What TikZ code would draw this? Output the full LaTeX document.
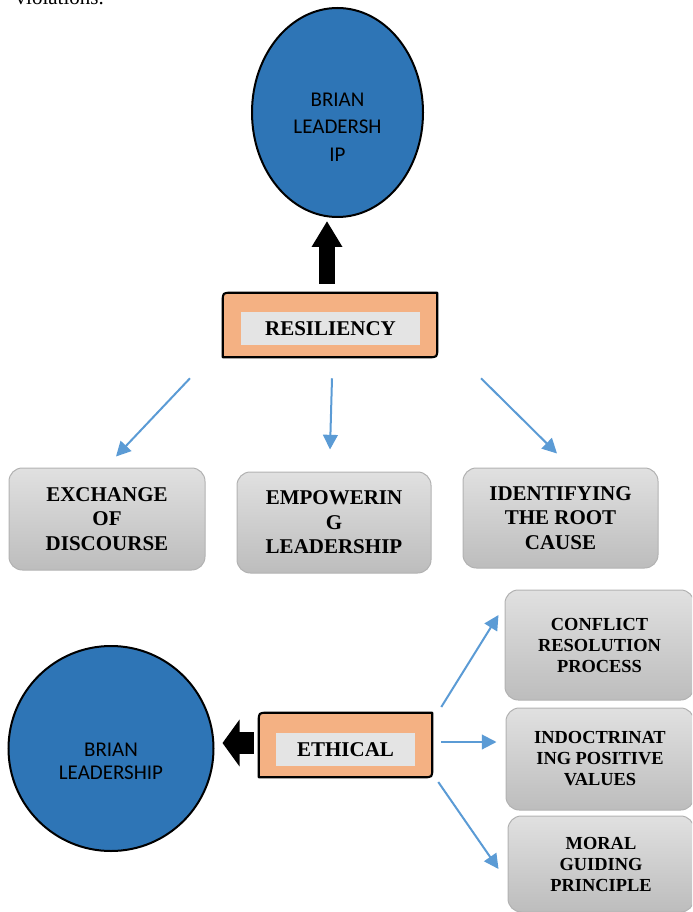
\documentclass[tikz,border=0pt]{standalone}
\usepackage{fontspec}
\setmainfont{Liberation Serif}
\newfontfamily\calibri{Carlito}
\usetikzlibrary{arrows.meta, shapes.geometric, calc}
\definecolor{mBlue}{HTML}{2E75B6}
\definecolor{mPeach}{HTML}{F4B183}
\definecolor{mArrow}{HTML}{5B9BD5}
\definecolor{mTab}{HTML}{E4E4E4}

% peach frame with the top-left and bottom-right corners rounded
\newcommand{\tabframe}[1]{%
  \draw[fill=mPeach, line width=1.6pt, line join=round]
    (#1.south west) -- ($(#1.north west)+(0,9)$) .. controls (#1.north west) .. ($(#1.north west)+(9,0)$)
    -- (#1.north east) -- ($(#1.south east)+(0,-9)$) .. controls (#1.south east) .. ($(#1.south east)+(-9,0)$)
    -- cycle;}

\begin{document}
\begin{tikzpicture}[x=0.75pt, y=-0.75pt,
    lead/.style={ellipse, draw, line width=1.5pt, fill=mBlue, inner sep=0pt},
    tab/.style={minimum width={#1*0.75pt}, minimum height={64*0.75pt}, inner sep=0pt},
    tablabel/.style={fill=mTab, minimum width={#1*0.75pt}, minimum height={33*0.75pt}, inner sep=0pt,
      font=\bfseries\fontsize{15.75}{18}\selectfont},
    topic/.style={draw=black!30, line width=0.75pt, rounded corners=10pt,
      top color=black!12, bottom color=black!26, align=center, inner sep=0pt},
    flow/.style={mArrow, line width=1.5pt, -{Triangle[length=11pt, width=11pt]}}]
  \useasboundingbox (0,0) rectangle (692,912);
  \clip (0,0) rectangle (692,912);

  \node[anchor=base west, font=\fontsize{15.75}{18}\selectfont] (tail) at (11,5) {violations.};

  % brain leadership, top
  \node[lead, minimum width={171*0.75pt}, minimum height={209*0.75pt}] (top) at (337.5,112.5) {};
  \node[align=center, font=\calibri\fontsize{15.75}{20.6}\selectfont] (toptext)
    at ([shift={(0,14.5)}]top.center) {BRIAN\\LEADERSH\\IP};

  \node[tab=214] (res) at (330,325) {};
  \tabframe{res}
  \node[tablabel=179] (reslbl) at (330.5,328.5) {RESILIENCY};

  \draw[line width=12pt, -{Triangle[length=19.5pt, width=21.75pt]}]
    ([shift={(-3,-9)}]res.north) -- ([shift={(-10.5,3)}]top.south);

  \foreach \n/\cx/\cy/\w/\h/\t in {
      exch/107/519/196/102/{EXCHANGE\\OF\\DISCOURSE},
      empow/334/522.5/194/101/{EMPOWERIN\\G\\LEADERSHIP},
      ident/560.5/518/195/100/{IDENTIFYING\\THE ROOT\\CAUSE}} {
    \node[topic, minimum width={\w*0.75pt}, minimum height={\h*0.75pt},
      font=\bfseries\fontsize{15.75}{18.4}\selectfont] (\n) at (\cx,\cy) {\t};
  }

  \draw[flow] ([shift={(-140,21)}]res.south) -- ([shift={(9,-11)}]exch.north);
  \draw[flow] ([shift={(2,21)}]res.south) -- ([shift={(-4,-22)}]empow.north);
  \draw[flow] ([shift={(151,21)}]res.south) -- ([shift={(-3.5,-14)}]ident.north);

  % brain leadership, bottom
  \node[lead, circle, minimum size={205*0.75pt}] (low) at (111,748.5) {};
  \node[align=center, font=\calibri\fontsize{15.75}{17.3}\selectfont] (lowtext)
    at ([shift={(0,13)}]low.center) {BRIAN\\LEADERSHIP};

  \node[tab=173] (eth) at (345.5,745) {};
  \tabframe{eth}
  \node[tablabel=139] (ethlbl) at (345.5,749.5) {ETHICAL};

  \draw[line width=16.5pt, -{Triangle[length=12.75pt, width=34.5pt]}]
    ([shift={(-5,-2)}]eth.west) -- ([shift={(8,-5.5)}]low.east);

  \foreach \n/\cx/\cy/\w/\h/\t in {
      confl/599.5/645/189/110/{CONFLICT\\RESOLUTION\\PROCESS},
      indoc/600/759/188/102/{INDOCTRINAT\\ING POSITIVE\\VALUES},
      moral/601/864/186/96/{MORAL\\GUIDING\\PRINCIPLE}} {
    \node[topic, minimum width={\w*0.75pt}, minimum height={\h*0.75pt},
      font=\bfseries\fontsize{13.8}{15.75}\selectfont] (\n) at (\cx,\cy) {\t};
  }

  \draw[flow] ([shift={(9,-38)}]eth.east) -- ([shift={(-6,-30)}]confl.west);
  \draw[flow] ([shift={(9,-3)}]eth.east) -- ([shift={(-9,-17)}]indoc.west);
  \draw[flow] ([shift={(6,37)}]eth.east) -- ([shift={(-9,5)}]moral.west);
\end{tikzpicture}
\end{document}
